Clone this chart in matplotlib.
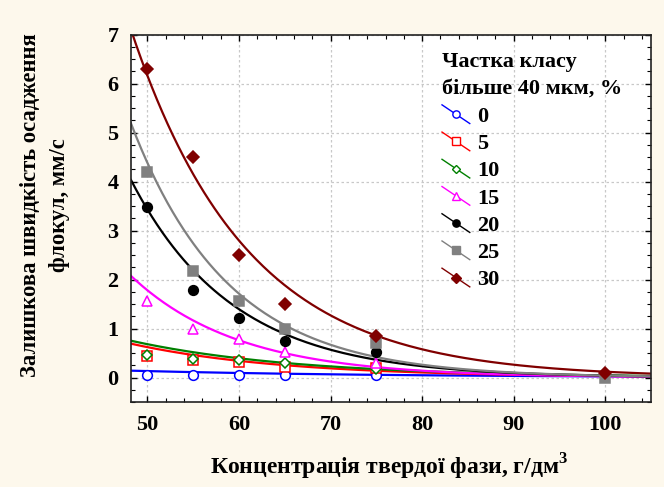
import numpy as np
import matplotlib
matplotlib.use("Agg")
import matplotlib.pyplot as plt
from matplotlib.lines import Line2D
from matplotlib.legend_handler import HandlerLine2D
from matplotlib.ticker import MultipleLocator

plt.rcParams['font.family'] = ['Liberation Serif', 'DejaVu Serif']
plt.rcParams['font.weight'] = 'bold'
plt.rcParams['mathtext.fontset'] = 'custom'
plt.rcParams['mathtext.rm'] = 'Liberation Serif:bold'
plt.rcParams['mathtext.bf'] = 'Liberation Serif:bold'

# Measured points: concentration (g/dm3) vs residual settling velocity (mm/s)
conc = [50, 55, 60, 65, 75]
v_0 = [0.055, 0.055, 0.055, 0.055, 0.055]
v_5 = [0.43, 0.36, 0.31, 0.22, 0.20]
v_10 = [0.45, 0.38, 0.35, 0.29, 0.17]
v_15 = [1.57, 0.99, 0.78, 0.53, 0.30]
v_20 = [3.49, 1.78, 1.21, 0.75, 0.53]
conc_ext = [50, 55, 60, 65, 75, 100]
v_25 = [4.19, 2.18, 1.57, 1.00, 0.70, 0.00]
v_30 = [6.29, 4.51, 2.51, 1.50, 0.84, 0.10]

fractions = ['0', '5', '10', '15', '20', '25', '30']

# exponential trend lines  y = a * exp(-b * (x - 50))
fit_a = [0.131, 0.62, 0.68, 1.78, 3.43, 4.38, 6.16]
fit_b = [0.035, 0.060, 0.055, 0.085, 0.090, 0.094, 0.079]

xs = [conc, conc, conc, conc, conc, conc_ext, conc_ext]
ys = [v_0, v_5, v_10, v_15, v_20, v_25, v_30]

colors = ['#0000ff', '#ff0000', '#008000', '#ff00ff', '#000000', '#808080', '#800000']
markers = ['o', 's', 'D', '^', 'o', 's', 'D']
msizes = [7, 7, 5.5, 7.5, 7, 7.5, 6.5]
filled = [False, False, False, False, True, True, True]


class SlantHandler(HandlerLine2D):
    """Legend key drawn as a short descending segment with the marker in the middle."""
    def create_artists(self, legend, orig_handle, xdescent, ydescent,
                       width, height, fontsize, trans):
        x0, x1 = -xdescent, -xdescent + width
        y0, y1 = -ydescent + height * 1.05, -ydescent - height * 0.05
        seg = Line2D([x0, x1], [y0, y1], color=orig_handle.get_color(), lw=1.0)
        mk = Line2D([(x0 + x1) / 2], [(y0 + y1) / 2], ls='none',
                    marker=orig_handle.get_marker(),
                    markersize=orig_handle.get_markersize() * 0.75,
                    markerfacecolor=orig_handle.get_markerfacecolor(),
                    markeredgecolor=orig_handle.get_markeredgecolor(),
                    markeredgewidth=orig_handle.get_markeredgewidth())
        seg.set_transform(trans)
        mk.set_transform(trans)
        return [seg, mk]


fig = plt.figure(figsize=(6.64, 4.87), dpi=100, facecolor='#fdf8ec')
ax = fig.add_axes([131 / 664, 1 - 402 / 487, 520 / 664, 367.3 / 487])
ax.set_facecolor('white')

xfit = np.linspace(48.2, 105, 300)
handles = []
for i in range(len(fractions)):
    c = colors[i]
    fc = c if filled[i] else 'white'
    yfit = fit_a[i] * np.exp(-fit_b[i] * (xfit - 50))
    ax.plot(xfit, yfit, color=c, lw=1.6, zorder=2)
    ax.plot(xs[i], ys[i], ls='none', marker=markers[i], markersize=msizes[i],
            markerfacecolor=fc, markeredgecolor=c, markeredgewidth=1.1, zorder=3)
    handles.append(Line2D([], [], color=c, marker=markers[i], markersize=msizes[i],
                          markerfacecolor=fc, markeredgecolor=c, markeredgewidth=1.0))

ax.set_xlim(48.2, 105)
ax.set_ylim(-0.5, 7)
ax.xaxis.set_major_locator(MultipleLocator(10))
ax.xaxis.set_minor_locator(MultipleLocator(2))
ax.yaxis.set_major_locator(MultipleLocator(1))
ax.yaxis.set_minor_locator(MultipleLocator(0.25))
ax.tick_params(which='both', direction='in', top=True, right=True, labelsize=16)
ax.tick_params(which='major', length=4, width=1)
ax.tick_params(which='minor', length=3, width=0.8)
ax.tick_params(axis='x', pad=9)
ax.tick_params(axis='y', pad=9)
for lbl in ax.get_xticklabels() + ax.get_yticklabels():
    lbl.set_fontweight('bold')

ax.grid(True, which='major', color='#c8c8c8', linestyle=(0, (2, 2)), lw=0.9)
ax.set_axisbelow(True)
for sp in ax.spines.values():
    sp.set_color('#222222')
    sp.set_linewidth(1.2)

leg = ax.legend(handles, fractions, handler_map={Line2D: SlantHandler()},
                title='Частка класу\nбільше 40 мкм, %', alignment='left',
                loc='upper left', bbox_to_anchor=(442 / 664, 1 - 52 / 487),
                bbox_transform=fig.transFigure, frameon=False,
                prop={'size': 16, 'weight': 'bold'},
                title_fontproperties={'size': 16, 'weight': 'bold'},
                handlelength=1.25, handleheight=0.8, handletextpad=0.35,
                labelspacing=0.27, borderpad=0, borderaxespad=0)
leg.get_title().set_linespacing(1.45)
leg._legend_box.sep = 5

fig.text(45 / 664, 1 - 205 / 487, 'Залишкова швидкість осадження\nфлокул, мм/с',
         rotation=90, ha='center', va='center', multialignment='center',
         fontsize=16.3, fontweight='bold', linespacing=1.5)
fig.text(389 / 664, 1 - 467 / 487, 'Концентрація твердої фази, г/дм$^3$',
         ha='center', va='center', fontsize=17, fontweight='bold')

fig.savefig('out.png', dpi=100, facecolor=fig.get_facecolor())
